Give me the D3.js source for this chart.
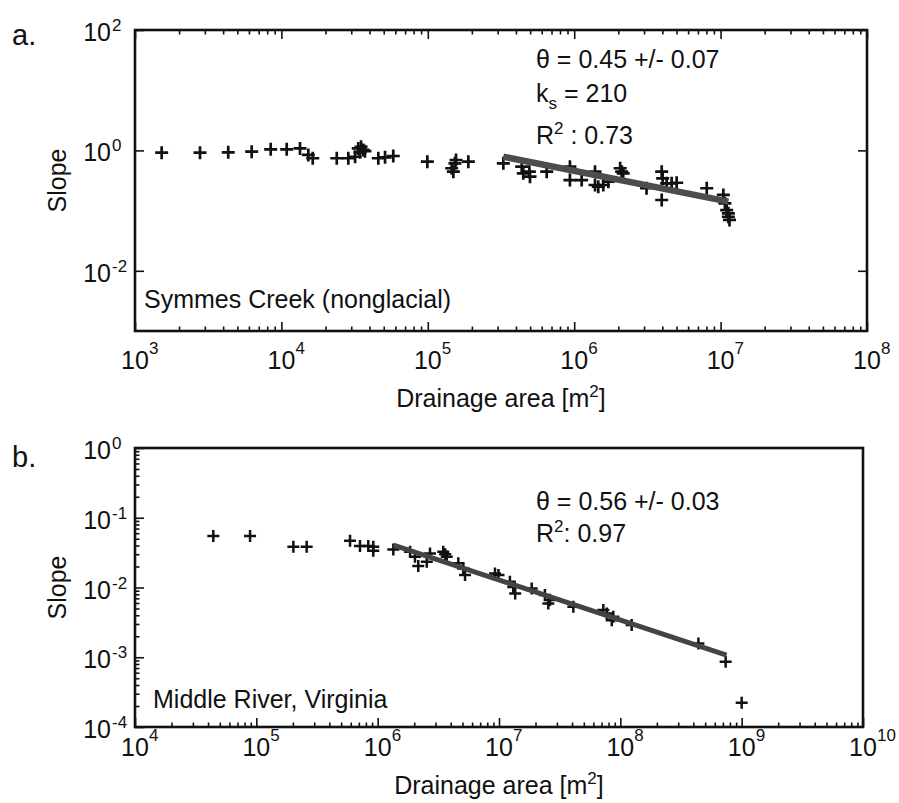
<!DOCTYPE html>
<html>
<head>
<meta charset="utf-8">
<script src="https://cdn.jsdelivr.net/npm/d3@7"></script>
<style>
  body { margin: 0; background: #fff; }
  text { font-family: "Liberation Sans", Arial, sans-serif; fill: #111; }
</style>
</head>
<body>
<div class="figure"></div>
<script>
// a. Symmes Creek (nonglacial) - drainage area [m2] vs slope
const symmesArea = [1521, 2780, 4335, 6266, 8450, 10870, 13400, 15270, 16370, 23890, 28650, 31860,
  33500, 35000, 36230, 34440, 37220, 45920, 51050, 58100, 99300, 145600, 153300, 149400, 155900, 189200,
  3.28e5, 4.38e5, 4.49e5, 4.99e5, 4.94e5, 6.49e5, 9.35e5, 9.35e5, 1.125e6, 1.387e6, 1.387e6, 1.46e6,
  1.58e6, 1.71e6, 2.06e6, 2.11e6, 2.16e6, 3.12e6, 3.96e6, 4.02e6, 4.28e6, 4.63e6, 5.01e6, 3.96e6,
  8.04e6, 1.044e7, 1.07e7, 1.1e7, 1.13e7, 1.15e7, 1.13e7];
const symmesSlope = [0.916, 0.916, 0.929, 0.951, 1.04, 1.04, 1.08, 0.84, 0.74, 0.74, 0.74, 0.785,
  1.08, 1.15, 1.02, 0.93, 0.97, 0.74, 0.767, 0.807, 0.649, 0.505, 0.61, 0.443, 0.693, 0.649,
  0.61, 0.536, 0.416, 0.366, 0.443, 0.443, 0.536, 0.322, 0.322, 0.443, 0.266, 0.249,
  0.266, 0.302, 0.505, 0.443, 0.416, 0.235, 0.443, 0.343, 0.284, 0.284, 0.29, 0.15,
  0.235, 0.182, 0.132, 0.102, 0.079, 0.07, 0.09];
const symmesFitArea = [3.28e5, 1.13e7];
const symmesFitSlope = [0.785, 0.141];

// b. Middle River, Virginia
const middleArea = [44200, 88800, 2.02e5, 2.6e5, 5.92e5, 7.15e5, 8.37e5, 9.2e5, 9.2e5, 1.346e6,
  1.85e6, 2.03e6, 2.16e6, 2.54e6, 2.7e6, 3.47e6, 3.71e6, 3.6e6, 4.62e6, 5.25e6, 5.08e6,
  9.27e6, 9.9e6, 1.23e7, 1.31e7, 1.36e7, 1.86e7, 2.39e7, 2.63e7, 2.55e7, 4.1e7,
  7.24e7, 7.73e7, 8.5e7, 8.75e7, 1.24e8, 4.4e8, 7.38e8, 1.0e9];
const middleSlope = [0.0546, 0.0546, 0.0384, 0.0384, 0.0468, 0.0393, 0.0393, 0.0384, 0.0336, 0.0352,
  0.0325, 0.0276, 0.0203, 0.0234, 0.0308, 0.0325, 0.0276, 0.030, 0.0222, 0.0151, 0.0188,
  0.0159, 0.0151, 0.0121, 0.0102, 0.0082, 0.0097, 0.0078, 0.0066, 0.0059, 0.00528,
  0.00474, 0.00425, 0.0034, 0.0038, 0.00289, 0.00157, 0.00086, 0.000222];
const middleFitArea = [1.35e6, 7.5e8];
const middleFitSlope = [0.0406, 0.00107];

// tick exponents
const symmesXExponents = [3, 4, 5, 6, 7, 8];
const symmesYExponents = [-2, 0, 2];
const middleXExponents = [4, 5, 6, 7, 8, 9, 10];
const middleYExponents = [-4, -3, -2, -1, 0];

const svg = d3.select(".figure").append("svg")
  .attr("width", 899)
  .attr("height", 803);

function renderPanel(p) {
  const x = d3.scaleLog().domain(p.xDomain).range([p.left, p.right]);
  const y = d3.scaleLog().domain(p.yDomain).range([p.bottom, p.top]);
  const g = svg.append("g");
  addTicks(g, x, y, p);
  addMarkers(g, x, y, p);
  addFitLine(g, x, y, p);
  addFrame(g, p);
  addTickLabels(g, x, y, p);
  addTexts(g, p);
}

const isPow10 = v => Math.abs(Math.log10(v) - Math.round(Math.log10(v))) < 1e-9;

const tickGroup = (g, axis, transform, values, size) => {
  g.append("g")
    .attr("transform", transform)
    .call(axis.tickValues(values).tickSize(-size).tickFormat(""))
    .call(s => s.select(".domain").remove())
    .call(s => s.selectAll("line").attr("stroke", "#111").attr("stroke-width", 1.6));
}

const addTicks = (g, x, y, p) => {
  const xMinor = x.ticks().filter(v => !isPow10(v));
  const xMajor = p.xExp.map(e => Math.pow(10, e));
  const yMajor = p.yExp.map(e => Math.pow(10, e));
  tickGroup(g, d3.axisBottom(x), `translate(0,${p.bottom})`, xMajor, 9);
  tickGroup(g, d3.axisBottom(x), `translate(0,${p.bottom})`, xMinor, 4.5);
  tickGroup(g, d3.axisLeft(y), `translate(${p.left},0)`, yMajor, 9);
  if (p.yMinor) {
    const yMinor = y.ticks().filter(v => !isPow10(v));
    tickGroup(g, d3.axisLeft(y), `translate(${p.left},0)`, yMinor, 4.5);
  }
  if (p.boxTicks) {
    tickGroup(g, d3.axisTop(x), `translate(0,${p.top})`, xMajor, 9);
    tickGroup(g, d3.axisTop(x), `translate(0,${p.top})`, xMinor, 4.5);
    tickGroup(g, d3.axisRight(y), `translate(${p.right},0)`, yMajor, 9);
  }
}

const addFrame = (g, p) => {
  g.append("rect")
    .attr("x", p.left)
    .attr("y", p.top)
    .attr("width", p.right - p.left)
    .attr("height", p.bottom - p.top)
    .attr("fill", "none")
    .attr("stroke", "#111")
    .attr("stroke-width", 2.6);
}

const addMarkers = (g, x, y, p) => {
  const m = p.marker;
  g.append("g")
    .selectAll("path")
    .data(p.area.map((a, i) => [a, p.slope[i]]))
    .enter()
    .append("path")
    .attr("d", `M${-m},0H${m}M0,${-m}V${m}`)
    .attr("transform", d => `translate(${x(d[0])},${y(d[1])})`)
    .attr("stroke", "#111")
    .attr("stroke-width", p.markerWidth)
    .attr("fill", "none");
}

const addFitLine = (g, x, y, p) => {
  const line = d3.line().x(d => x(d[0])).y(d => y(d[1]));
  g.append("path")
    .attr("d", line(p.fitArea.map((a, i) => [a, p.fitSlope[i]])))
    .attr("stroke", p.fitColor)
    .attr("stroke-width", p.fitWidth)
    .attr("fill", "none");
}

const addTickLabels = (g, x, y, p) => {
  p.xExp.forEach(e => {
    const cx = x(Math.pow(10, e));
    g.append("text").text("10")
      .attr("x", cx).attr("y", p.xLabelY)
      .attr("text-anchor", "middle")
      .attr("font-size", 25);
    g.append("text").text(e)
      .attr("x", cx + 14).attr("y", p.xLabelY - 15)
      .attr("font-size", 17);
  });
  p.yExp.forEach(e => {
    const cy = y(Math.pow(10, e));
    g.append("text").text("10")
      .attr("x", 111).attr("y", cy + 11)
      .attr("text-anchor", "end")
      .attr("font-size", 25);
    g.append("text").text(e < 0 ? "-" + (-e) : e)
      .attr("x", 112).attr("y", cy + 1)
      .attr("font-size", 17);
  });
}

const addTexts = (g, p) => {
  const midX = (p.left + p.right) / 2;
  const midY = (p.top + p.bottom) / 2;
  const title = g.append("text")
    .attr("x", midX).attr("y", p.titleY)
    .attr("text-anchor", "middle")
    .attr("font-size", 25);
  title.append("tspan").text("Drainage area [m");
  title.append("tspan").text("2").attr("dy", -10).attr("font-size", 17);
  title.append("tspan").text("]").attr("dy", 10);

  g.append("text").text("Slope")
    .attr("transform", `translate(66,${midY}) rotate(-90)`)
    .attr("text-anchor", "middle")
    .attr("font-size", 25);

  g.append("text").text(p.letter)
    .attr("x", 12).attr("y", p.letterY)
    .attr("font-size", 29);

  g.append("text").text(p.name)
    .attr("x", p.nameX).attr("y", p.nameY)
    .attr("font-size", 25);

  p.notes.forEach(n => {
    const t = g.append("text")
      .attr("x", 536).attr("y", n.y)
      .attr("font-size", 25);
    n.parts.forEach(([s, dy, fs]) => {
      const ts = t.append("tspan").text(s);
      if (dy) ts.attr("dy", dy);
      if (fs) ts.attr("font-size", fs);
    });
  });
}

renderPanel({
  left: 135, right: 867, top: 30, bottom: 331,
  xDomain: [1e3, 1e8], yDomain: [1e-3, 1e2],
  xExp: symmesXExponents, yExp: symmesYExponents,
  area: symmesArea, slope: symmesSlope,
  fitArea: symmesFitArea, fitSlope: symmesFitSlope,
  yMinor: false, boxTicks: true,
  marker: 6.5, markerWidth: 2.7, fitWidth: 6.5, fitColor: "#4d4d4d",
  xLabelY: 369, titleY: 407,
  letter: "a.", letterY: 45,
  name: "Symmes Creek (nonglacial)", nameX: 144, nameY: 308,
  notes: [
    { y: 68, parts: [["θ = 0.45 +/- 0.07"]] },
    { y: 102, parts: [["k"], ["s", 7, 17], [" = 210", -7]] },
    { y: 144, parts: [["R"], ["2", -10, 17], [" : 0.73", 10]] }
  ]
});

renderPanel({
  left: 135, right: 863, top: 448, bottom: 727,
  xDomain: [1e4, 1e10], yDomain: [1e-4, 1],
  xExp: middleXExponents, yExp: middleYExponents,
  area: middleArea, slope: middleSlope,
  fitArea: middleFitArea, fitSlope: middleFitSlope,
  yMinor: true, boxTicks: false,
  marker: 6, markerWidth: 2.5, fitWidth: 5, fitColor: "#444",
  xLabelY: 756, titleY: 794,
  letter: "b.", letterY: 467,
  name: "Middle River, Virginia", nameX: 153, nameY: 708,
  notes: [
    { y: 510, parts: [["θ = 0.56 +/- 0.03"]] },
    { y: 542, parts: [["R"], ["2", -10, 17], [": 0.97", 10]] }
  ]
});
</script>
</body>
</html>
